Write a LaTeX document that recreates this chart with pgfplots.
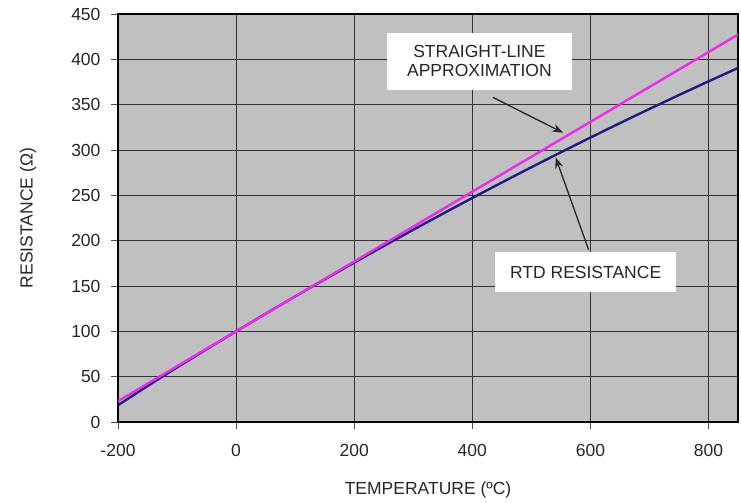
\documentclass[border=0pt]{standalone}
\usepackage{fontspec}
\setmainfont{Liberation Sans}
\usepackage{pgfplots}
\pgfplotsset{compat=1.18}
\usetikzlibrary{calc,arrows.meta}
\definecolor{bggray}{HTML}{C0C0C0}
\definecolor{magline}{HTML}{F028F0}
\definecolor{navyline}{HTML}{1C1C82}
\begin{document}
\begin{tikzpicture}
\begin{axis}[
  scale only axis, width=620pt, height=408pt,
  xmin=-200, xmax=850, ymin=0, ymax=450,
  xtick={-200,0,200,400,600,800}, ytick={0,50,...,450},
  xtick pos=bottom, ytick pos=left,
  grid=major, major grid style={black!80, line width=0.9pt},
  axis background/.style={fill=bggray},
  axis line style={black, line width=1.2pt},
  tick align=outside, major tick length=7pt, tick style={black!70, line width=0.8pt},
  /pgf/number format/assume math mode=true,
  ticklabel style={font=\fontsize{17.5}{20}\selectfont, text=black!85},
  yticklabel style={xshift=-7pt},
  xticklabel style={yshift=-12pt},
  xlabel={TEMPERATURE (ºC)}, ylabel={RESISTANCE (Ω)},
  label style={font=\fontsize{17.5}{20}\selectfont, text=black!85},
  xlabel style={at={(axis description cs:0.5,-0.166)}, anchor=center},
  ylabel style={at={(axis description cs:-0.145,0.5)}, anchor=center},
]
\addplot[navyline, line width=2.4pt] coordinates {
(-200,18.52) (-150,39.72) (-100,60.26) (-50,80.31) (0,100.00)
(50,119.40) (100,138.51) (150,157.33) (200,175.86) (250,194.10)
(300,212.05) (350,229.72) (400,247.09) (450,264.18) (500,280.98)
(550,297.49) (600,313.71) (650,329.64) (700,345.28) (750,360.64)
(800,375.70) (850,390.48)};
\addplot[magline, line width=2.4pt] coordinates {
(-200,23.0) (0,100.0) (200,177.0) (400,254.0) (600,331.0) (850,427.25)};
\node[fill=white, minimum width=185pt, minimum height=57pt, align=center,
  font=\fontsize{17.5}{19.5}\selectfont, text=black!85, inner sep=2pt]
  at (axis cs:412,398) {STRAIGHT-LINE\\APPROXIMATION};
\node[fill=white, minimum width=181pt, minimum height=40pt,
  font=\fontsize{17.5}{19.5}\selectfont, text=black!85, inner sep=2pt]
  at (axis cs:592,165) {RTD RESISTANCE};
\draw[black!85, line width=1.3pt, -{Stealth[length=11pt,width=8pt]}] (axis cs:435,358) -- (axis cs:554,319);
\draw[black!85, line width=1.3pt, -{Stealth[length=11pt,width=8pt]}] (axis cs:597,190) -- (axis cs:541,292);
\end{axis}
\path ($(current axis.south west)+(-118pt,-80pt)$) rectangle ($(current axis.north east)+(3pt,14pt)$);
\end{tikzpicture}
\end{document}
